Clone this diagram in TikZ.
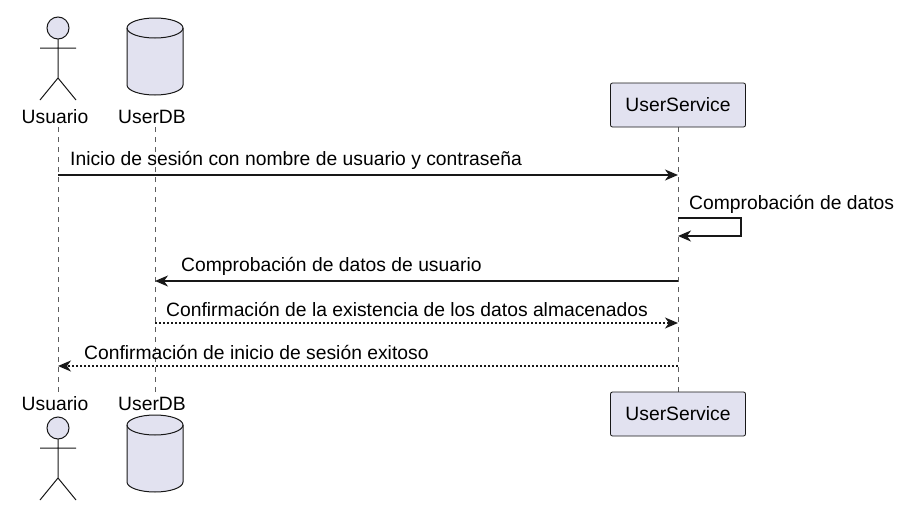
\documentclass[tikz,border=0pt]{standalone}
\usepackage{fontspec}
\setmainfont{Liberation Sans}
\usetikzlibrary{arrows.meta}
\definecolor{partfill}{HTML}{E2E2F0}
\definecolor{partline}{HTML}{181818}
\tikzset{
	x=1pt, y=-1pt,
	lbl/.style={font=\fontsize{19.3}{22}\selectfont, inner sep=0pt},
	partbox/.style={draw=partline, fill=partfill, rounded corners=2pt, line width=0.8pt, minimum width=135pt, minimum height=44pt, font=\fontsize{19.3}{22}\selectfont},
	lifeline/.style={draw=partline!70, dash pattern=on 5pt off 5pt, line width=0.7pt},
	msg/.style={draw=partline, line width=1.4pt, -{Stealth[length=13pt,width=11pt,inset=4pt]}},
	reply/.style={msg, dash pattern=on 2pt off 2pt}
}
\newcommand{\stickman}[2]{% x, y of head centre
	\draw[draw=partline, fill=partfill, line width=1pt] (#1,#2) circle (11);
	\draw[draw=partline, line width=1pt] (#1,#2+11) -- (#1,#2+50)
		(#1-18,#2+20) -- (#1+18,#2+20)
		(#1-18,#2+72) -- (#1,#2+50) -- (#1+18,#2+72);
}
\newcommand{\dbdrum}[2]{% x centre, y top
	\draw[draw=partline, fill=partfill, line width=1pt]
		(#1-28,#2+10) -- (#1-28,#2+67) arc[start angle=180, end angle=360, x radius=28, y radius=-10]
		-- (#1+28,#2+10) arc[start angle=0, end angle=180, x radius=28, y radius=-10] -- cycle;
	\draw[draw=partline, line width=1pt] (#1-28,#2+10) arc[start angle=180, end angle=360, x radius=28, y radius=-10];
}
\begin{document}
\begin{tikzpicture}
	\useasboundingbox[fill=white] (0,0) rectangle (903,525);

	% Lifelines
	\coordinate (usrTop) at (58,127);
	\coordinate (usrBot) at (58,392);
	\coordinate (dbTop) at (155,127);
	\coordinate (dbBot) at (155,392);
	\coordinate (svcTop) at (678,127);
	\coordinate (svcBot) at (678,392);
	\draw[lifeline] (usrTop) -- (usrBot);
	\draw[lifeline] (dbTop) -- (dbBot);
	\draw[lifeline] (svcTop) -- (svcBot);

	% Participants, top
	\stickman{58}{28}
	\node[lbl] (usrLblTop) at (55,117) {Usuario};
	\dbdrum{155}{18}
	\node[lbl] (dbLblTop) at (152,117) {UserDB};
	\node[partbox] (svcTopBox) at (678,105) {UserService};

	% Participants, bottom
	\node[lbl] (usrLblBot) at (55,404) {Usuario};
	\stickman{58}{428}
	\node[lbl] (dbLblBot) at (152,404) {UserDB};
	\dbdrum{155}{415}
	\node[partbox] (svcBotBox) at (678,414) {UserService};

	% Messages
	\coordinate (m1a) at (58,175);  \coordinate (m1b) at (678,175);
	\draw[msg] (m1a) -- (m1b);
	\node[lbl, anchor=west] (m1) at (70,160) {Inicio de sesión con nombre de usuario y contraseña};

	\coordinate (m2a) at (678,218); \coordinate (m2b) at (678,236);
	\draw[msg] (m2a) -- (741,218) -- (741,236) -- (m2b);
	\node[lbl, anchor=west] (m2) at (689,204) {Comprobación de datos};

	\coordinate (m3a) at (678,281); \coordinate (m3b) at (155,281);
	\draw[msg] (m3a) -- (m3b);
	\node[lbl, anchor=west] (m3) at (181,266) {Comprobación de datos de usuario};

	\coordinate (m4a) at (155,323); \coordinate (m4b) at (678,323);
	\draw[reply] (m4a) -- (m4b);
	\node[lbl, anchor=west] (m4) at (166,309) {Confirmación de la existencia de los datos almacenados};

	\coordinate (m5a) at (678,366); \coordinate (m5b) at (58,366);
	\draw[reply] (m5a) -- (m5b);
	\node[lbl, anchor=west] (m5) at (84,352) {Confirmación de inicio de sesión exitoso};
\end{tikzpicture}
\end{document}
